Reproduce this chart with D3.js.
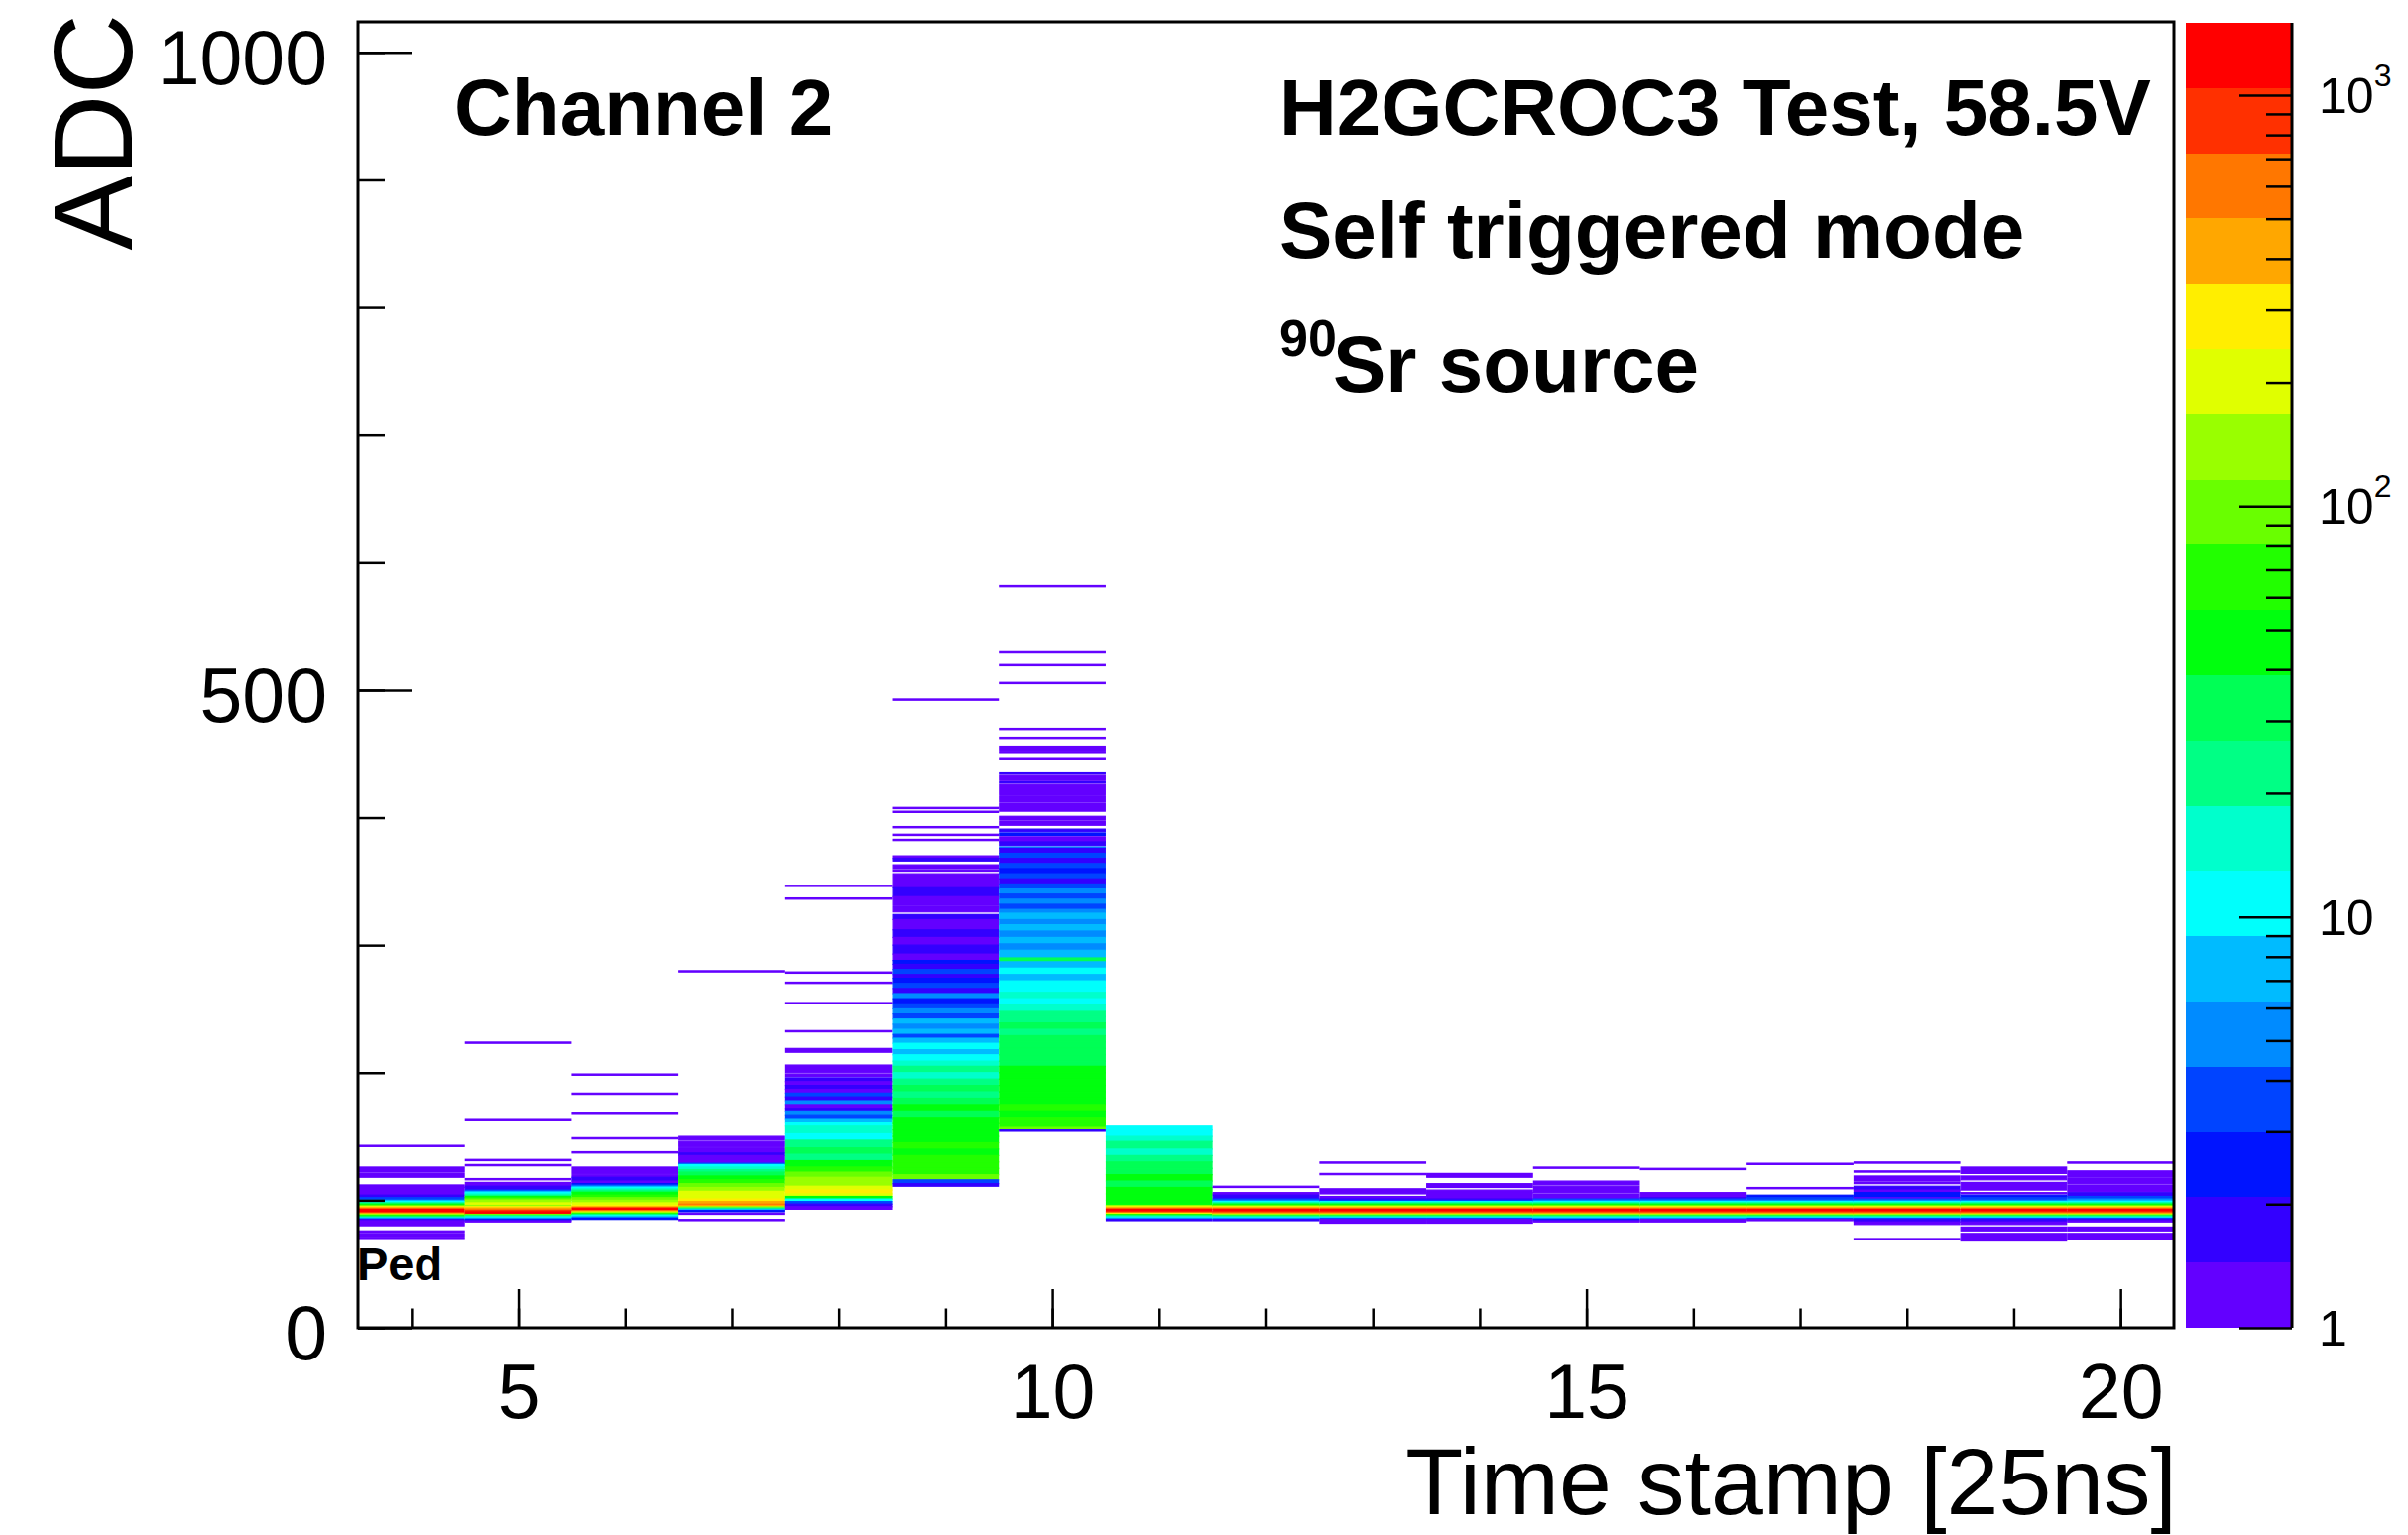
<!DOCTYPE html>
<html>
<head>
<meta charset="utf-8">
<script src="https://cdn.jsdelivr.net/npm/d3@7"></script>
<style>
  body { margin: 0; background: #fff; }
  text { font-family: "Liberation Sans", Arial, Helvetica, sans-serif; }
</style>
</head>
<body>
<svg id="chart" width="2428" height="1548"></svg>
<script>
// time stamp bins (x) and, for each one, ADC ranges [from, to, counts per ADC bin]
const timeStamps = [4, 5, 6, 7, 8, 9, 10, 11, 12, 13, 14, 15, 16, 17, 18, 19, 20];

const ts4 = [[142,142,1],[122,125,1],[118,120,1],[110,111,1],[104,109,1],[102,103,2],[100,101,3.5],[99,99,7],
  [98,98,10],[97,97,22],[96,96,45],[95,95,95],[94,94,290],[93,93,600],[90,92,1200],[89,89,420],[88,88,140],
  [87,87,45],[86,86,15],[85,85,5],[84,84,2],[80,83,1],[75,75,1],[72,73,1],[70,70,1]];
const ts5 = [[223,223,1],[163,163,1],[131,131,1],[127,127,1],[116,116,1],[111,113,1],[108,110,2],[107,107,3.5],
  [106,106,7],[105,105,10],[104,104,15],[103,103,22],[102,102,45],[101,101,65],[100,100,95],[98,99,140],
  [96,97,200],[95,95,140],[94,94,290],[93,93,420],[92,92,600],[91,91,850],[89,90,1200],[88,88,95],[87,87,22],
  [86,86,10],[85,85,5],[84,84,2.5],[83,83,1]];
const ts6 = [[198,198,1],[183,183,1],[168,168,1],[148,148,1],[137,137,1],[121,125,1],[118,119,1],[115,117,2],
  [113,114,1],[112,112,2.5],[111,111,3.5],[110,110,7],[109,109,10],[108,108,15],[107,107,22],[106,106,32],
  [104,105,45],[102,103,65],[100,101,95],[98,99,140],[96,97,200],[95,95,290],[94,94,420],[92,93,1200],
  [91,91,600],[90,90,200],[89,89,65],[88,88,22],[87,87,10],[86,86,5],[85,85,2.5]];
const ts7 = [[279,279,1],[147,149,1],[142,145,1],[137,140,1],[135,136,2],[129,134,1],[128,128,3.5],[126,127,10],
  [124,125,15],[122,123,22],[119,121,32],[116,118,45],[113,115,65],[110,112,95],[107,109,140],[104,106,200],
  [101,103,200],[99,100,290],[97,98,420],[96,96,600],[95,95,420],[94,94,140],[93,93,22],[92,92,7],[91,91,2.5],
  [89,89,1],[84,84,1]];
const ts8 = [[346,346,1],[336,336,1],[278,278,1],[270,270,1],[254,254,1],[232,232,1],[216,218,1],[200,205,1],
  [197,198,1],[193,195,2],[190,192,1],[187,189,2],[184,186,1],[181,183,3.5],[178,180,2],[175,177,5],[172,174,1],
  [170,171,2],[167,169,5],[164,166,3.5],[161,163,7],[158,160,10],[152,157,14],[147,151,10],[141,146,22],
  [136,140,32],[131,135,22],[126,130,45],[122,125,65],[118,121,95],[115,117,140],[111,114,120],[108,110,200],
  [105,107,250],[103,104,200],[101,102,45],[99,100,10],[97,98,3.5],[95,96,2],[93,94,1]];
const ts9 = [[492,492,1],[407,407,1],[404,404,1],[392,392,1],[386,386,1],[382,382,1],[368,369,1],[366,367,2],
  [360,362,1],[358,358,1],[345,355,1],[338,344,2],[331,337,1],[326,329,1],[320,323,2],[312,319,1],[306,311,2],
  [300,305,1],[293,299,2],[288,292,1],[285,287,2.5],[281,284,2],[277,280,3.5],[274,276,2],[270,273,2.5],
  [266,269,3.5],[262,265,2],[258,261,5],[254,257,2.5],[250,253,3.5],[246,249,5],[242,245,3.5],[238,241,7],
  [234,237,5],[230,233,7],[227,229,3.5],[223,226,7],[218,222,10],[214,217,7],[209,213,12],[205,208,15],
  [200,204,22],[195,199,15],[190,194,22],[185,189,32],[180,184,22],[175,179,32],[170,174,45],[165,169,32],
  [160,164,45],[155,159,40],[150,154,55],[145,149,45],[140,144,60],[135,139,50],[130,134,65],[125,129,60],
  [120,124,80],[116,119,95],[113,115,3.5],[111,112,2]];
const ts10 = [[581,581,1],[529,529,1],[519,519,1],[505,505,1],[469,469,1],[462,462,1],[453,455,1],[451,451,1],
  [446,446,1],[434,434,2],[429,432,1],[427,427,2],[418,425,1],[412,416,1],[405,410,1],[398,400,1],[394,396,1],
  [389,390,2],[386,387,2.5],[381,384,1],[378,380,2],[376,376,5],[372,375,2],[368,371,3.5],[364,367,2],
  [360,363,3.5],[356,359,2.5],[352,355,3.5],[348,351,2],[344,347,3.5],[340,343,5],[336,339,3.5],[332,335,5],
  [328,331,3.5],[325,327,5],[320,324,7],[316,319,5],[311,315,7],[306,310,5],[301,305,7],[296,300,5],
  [290,295,7],[287,289,32],[282,286,7],[277,281,10],[272,276,7],[267,271,10],[263,266,12],[258,262,15],
  [253,257,10],[248,252,15],[244,247,22],[239,243,22],[234,238,32],[229,233,22],[224,228,32],[219,223,28],
  [214,218,35],[209,213,28],[205,208,35],[200,204,45],[195,199,40],[190,194,55],[185,189,45],[180,184,55],
  [175,179,45],[170,174,60],[165,169,50],[160,164,60],[157,159,80],[155,156,100],[154,154,2]];
const ts11 = [[155,157,10],[150,154,12],[146,149,15],[140,145,22],[135,139,15],[130,134,22],[125,129,32],
  [120,124,28],[115,119,40],[110,114,35],[105,109,45],[100,104,40],[96,99,55],[95,95,140],[94,94,290],
  [93,93,600],[91,92,1200],[90,90,850],[89,89,290],[88,88,65],[87,87,22],[86,86,10],[85,85,5],[84,84,2]];
const ts12 = [[110,110,1],[104,105,1],[101,103,2],[100,100,3.5],[99,99,5],[98,98,10],[97,97,22],[96,96,45],
  [95,95,95],[94,94,290],[93,93,600],[91,92,1200],[90,90,850],[89,89,420],[88,88,140],[87,87,32],[86,86,10],
  [85,85,5],[84,84,2]];
const ts13 = [[129,129,1],[120,120,1],[105,108,1],[101,102,1],[100,100,2],[99,99,3.5],[98,98,10],[97,97,22],
  [96,96,45],[95,95,95],[94,94,290],[93,93,600],[91,92,1200],[90,90,850],[89,89,420],[88,88,140],[87,87,32],
  [86,86,10],[85,85,3.5],[82,84,1]];
const ts14 = [[118,120,1],[110,112,1],[106,107,1],[101,105,1],[100,100,2],[99,99,3.5],[98,98,10],[97,97,22],
  [96,96,45],[95,95,95],[94,94,290],[93,93,600],[91,92,1200],[90,90,850],[89,89,420],[88,88,140],[87,87,32],
  [86,86,10],[85,85,3.5],[82,84,1]];
const ts15 = [[125,125,1],[112,114,1],[106,110,1],[101,104,1],[100,100,3.5],[99,99,5],[98,98,10],[97,97,22],
  [96,96,45],[95,95,95],[94,94,290],[93,93,600],[91,92,1200],[90,90,850],[89,89,420],[88,88,140],[87,87,32],
  [86,86,10],[85,85,5],[84,84,2.5],[83,83,1]];
const ts16 = [[124,124,1],[102,105,1],[101,101,2],[100,100,3.5],[99,99,5],[98,98,10],[97,97,22],[96,96,45],
  [95,95,95],[94,94,290],[93,93,600],[91,92,1200],[90,90,850],[89,89,420],[88,88,140],[87,87,32],[86,86,10],
  [85,85,5],[83,84,1]];
const ts17 = [[128,128,1],[109,109,1],[102,103,2.5],[100,101,3.5],[99,99,5],[98,98,10],[97,97,22],[96,96,45],
  [95,95,95],[94,94,290],[93,93,600],[91,92,1200],[90,90,850],[89,89,420],[88,88,140],[87,87,32],[86,86,10],
  [85,85,3.5],[84,84,1]];
const ts18 = [[129,129,1],[122,122,1],[115,118,1],[113,113,1],[108,110,2],[106,107,1],[102,105,2.5],[101,101,1],
  [100,100,3.5],[99,99,5],[98,98,10],[97,97,22],[96,96,45],[95,95,95],[94,94,290],[93,93,600],[91,92,1200],
  [90,90,850],[89,89,420],[88,88,140],[87,87,32],[86,86,10],[85,85,3.5],[83,84,2],[81,82,1],[69,69,1]];
const ts19 = [[121,125,1],[116,118,1],[108,113,1],[105,105,1],[102,103,2.5],[100,101,3.5],[99,99,5],[98,98,10],
  [97,97,22],[96,96,45],[95,95,95],[94,94,290],[93,93,600],[91,92,1200],[90,90,850],[89,89,420],[88,88,140],
  [87,87,32],[86,86,10],[85,85,3.5],[83,84,2],[81,82,1],[76,78,1],[68,73,1]];
const ts20 = [[129,129,1],[118,122,1],[113,116,1],[107,111,1],[103,105,2],[101,102,3.5],[100,100,5],[99,99,7],
  [98,98,10],[97,97,22],[96,96,45],[95,95,95],[94,94,290],[93,93,600],[91,92,1200],[90,90,850],[89,89,420],
  [88,88,140],[87,87,32],[86,86,10],[85,85,3.5],[84,84,2],[83,83,1],[76,78,1],[69,73,1]];

const adcBins = [ts4, ts5, ts6, ts7, ts8, ts9, ts10, ts11, ts12, ts13, ts14, ts15, ts16, ts17, ts18, ts19, ts20];

const xMajorTicks = [5, 10, 15, 20];
const yMajorTicks = [0, 500, 1000];
const zMajorTicks = [1, 10, 100, 1000];
const zLabels = [["1", ""], ["10", ""], ["10", "2"], ["10", "3"]];

const textLines = [
  {x: 458, y: 136, text: "Channel 2"},
  {x: 1290, y: 136, text: "H2GCROC3 Test, 58.5V"},
  {x: 1290, y: 260, text: "Self triggered mode"}
];

const svg = d3.select("#chart");
const frame = {left: 361, right: 2192, top: 22, bottom: 1339};

const x = d3.scaleLinear().domain([3.5, 20.5]).range([frame.left, frame.right]);
const y = d3.scaleLinear().domain([0, 1024]).range([frame.bottom, frame.top]);
const zMax = 1500, nLevels = 20;
const z = d3.scaleLog().domain([1, zMax]).range([frame.bottom, 23]);

// ROOT "pretty" palette, 20 contours
const palette = d3.range(nLevels).map(function(k) {
  const j = Math.floor((k + 0.99) * 50 / nLevels);
  return d3.hsl(280 - (j + 1) * 5.6, 1, 0.5).formatHex();
});
function colorOf(c) {
  let k = Math.floor(nLevels * Math.log10(c) / Math.log10(zMax));
  return palette[Math.max(0, Math.min(nLevels - 1, k))];
}

svg.append("rect").attr("width", 2428).attr("height", 1548).attr("fill", "#fff");

svg.append("clipPath").attr("id", "plotClip")
  .append("rect")
  .attr("x", frame.left).attr("y", frame.top)
  .attr("width", frame.right - frame.left).attr("height", frame.bottom - frame.top);

let cells = [];
timeStamps.forEach(function(t, i) {
  adcBins[i].forEach(function(b) {
    cells.push({t: t, lo: b[0], hi: b[1], c: b[2]});
  });
});

// bins are ~1.3px tall; a thin same-colour stroke keeps single-bin lines visible like the png
svg.append("g")
  .attr("clip-path", "url(#plotClip)")
  .selectAll("rect")
  .data(cells)
  .join("rect")
  .attr("x", d => x(d.t - 0.5) + 0.6)
  .attr("width", d => x(d.t + 0.5) - x(d.t - 0.5) - 1.2)
  .attr("y", d => y(d.hi + 1))
  .attr("height", d => y(d.lo) - y(d.hi + 1))
  .attr("fill", d => colorOf(d.c))
  .attr("stroke", d => colorOf(d.c))
  .attr("stroke-width", 1.2);

// axes
function styleAxis(g, size) {
  g.select(".domain").remove();
  g.selectAll("line").attr("stroke", "#000").attr("stroke-width", 2.5);
  g.attr("font-family", null).attr("font-size", size);
  g.selectAll("text").attr("fill", "#000");
}

svg.append("g")
  .attr("transform", `translate(0,${frame.bottom})`)
  .call(d3.axisBottom(x).tickValues(d3.range(4, 21)).tickSize(-19.5).tickSizeOuter(0).tickFormat(""))
  .call(g => styleAxis(g, 77));
svg.append("g")
  .attr("transform", `translate(0,${frame.bottom})`)
  .call(d3.axisBottom(x).tickValues(xMajorTicks).tickSize(-39).tickSizeOuter(0).tickPadding(36)
    .tickFormat(d3.format("d")))
  .call(g => styleAxis(g, 77));

svg.append("g")
  .attr("transform", `translate(${frame.left},0)`)
  .call(d3.axisLeft(y).tickValues(d3.range(0, 1001, 100)).tickSize(-27).tickSizeOuter(0).tickFormat(""))
  .call(g => styleAxis(g, 77));
svg.append("g")
  .attr("transform", `translate(${frame.left},0)`)
  .call(d3.axisLeft(y).tickValues(yMajorTicks).tickSize(-54).tickSizeOuter(0).tickPadding(31)
    .tickFormat(d3.format("d")))
  .call(g => styleAxis(g, 77))
  .call(g => g.selectAll("text").attr("dy", "0.41em"));

svg.append("rect")
  .attr("x", frame.left).attr("y", frame.top)
  .attr("width", frame.right - frame.left).attr("height", frame.bottom - frame.top)
  .attr("fill", "none").attr("stroke", "#000").attr("stroke-width", 3);

// axis titles
svg.append("text")
  .attr("transform", "translate(133,14) rotate(-90)")
  .attr("text-anchor", "end").attr("font-size", 113)
  .text("ADC");
svg.append("text")
  .attr("x", 2195).attr("y", 1527)
  .attr("text-anchor", "end").attr("font-size", 95)
  .text("Time stamp [25ns]");

// labels
svg.append("text")
  .attr("x", 360).attr("y", 1291)
  .attr("font-weight", "bold").attr("font-size", 47)
  .text("Ped");

svg.selectAll("text.info")
  .data(textLines)
  .join("text")
  .attr("class", "info")
  .attr("x", d => d.x).attr("y", d => d.y)
  .attr("font-weight", "bold").attr("font-size", 80)
  .text(d => d.text);

const src = svg.append("text")
  .attr("x", 1290).attr("y", 395)
  .attr("font-weight", "bold").attr("font-size", 80);
src.append("tspan").attr("font-size", 52).attr("dy", -36).text("90");
src.append("tspan").attr("x", 1344).attr("dy", 36).text("Sr source");

// colour bar
const bar = {left: 2204, right: 2311};
const levels = d3.range(nLevels + 1).map(k => Math.pow(zMax, k / nLevels));

svg.append("g")
  .selectAll("rect")
  .data(d3.range(nLevels))
  .join("rect")
  .attr("x", bar.left)
  .attr("width", bar.right - bar.left)
  .attr("y", k => z(levels[k + 1]))
  .attr("height", k => z(levels[k]) - z(levels[k + 1]))
  .attr("fill", k => palette[k])
  .attr("shape-rendering", "crispEdges");

const zMinor = z.ticks().filter(v => zMajorTicks.indexOf(v) < 0);
svg.append("g")
  .attr("transform", `translate(${bar.right},0)`)
  .call(d3.axisRight(z).tickValues(zMinor).tickSize(-26).tickSizeOuter(0).tickFormat(""))
  .call(g => styleAxis(g, 50));
svg.append("g")
  .attr("transform", `translate(${bar.right},0)`)
  .call(d3.axisRight(z).tickValues(zMajorTicks).tickSize(-53).tickSizeOuter(0).tickFormat(""))
  .call(g => styleAxis(g, 50));
svg.append("line")
  .attr("x1", bar.right).attr("x2", bar.right)
  .attr("y1", z(zMax)).attr("y2", z(1))
  .attr("stroke", "#000").attr("stroke-width", 3);

const zText = svg.append("g")
  .selectAll("text")
  .data(zMajorTicks)
  .join("text")
  .attr("x", 2338)
  .attr("y", v => z(v) + 18)
  .attr("font-size", 50);
zText.append("tspan").text((v, i) => zLabels[i][0]);
zText.append("tspan").attr("font-size", 32).attr("dy", -27).text((v, i) => zLabels[i][1]);
</script>
</body>
</html>
